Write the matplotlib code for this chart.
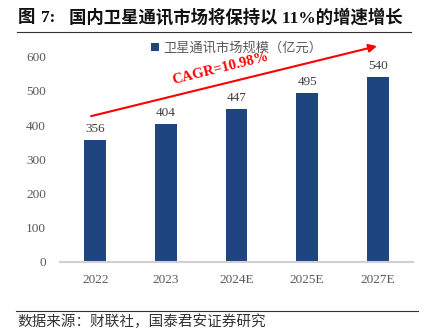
import matplotlib
matplotlib.use('Agg')
import matplotlib.pyplot as plt

years = ['2022', '2023', '2024E', '2025E', '2027E']
market = [356, 404, 447, 495, 540]
series_name = '卫星通讯市场规模（亿元）'
title_head = '图'
title_num = '7:'
title_body = '国内卫星通讯市场将保持以 11%的增速增长'
source = '数据来源：财联社，国泰君安证券研究'
cagr = 'CAGR=10.98%'

fonts = ['Liberation Serif', 'Noto Sans CJK SC', 'DejaVu Sans']
plt.rcParams['font.family'] = fonts

fig = plt.figure(figsize=(4.29, 3.34), dpi=100)
ax = fig.add_axes([60/429, 1-261.7/334, 353/429, 205/334])

x = range(len(years))
bars = ax.bar(x, market, width=0.31, color='#1f4580', label=series_name, zorder=2)
for xi, v in zip(x, market):
    ax.annotate(str(v), (xi, v), xytext=(0, 3.5), textcoords='offset points',
                ha='center', va='bottom', fontsize=9.5, color='#404040')

ax.set_xlim(-0.5, 4.5)
ax.set_ylim(0, 600)
ax.set_yticks(range(0, 601, 100))
ax.set_xticks(list(x))
ax.set_xticklabels(years)
ax.tick_params(axis='both', length=0, labelsize=9.5, labelcolor='#595959')
ax.tick_params(axis='y', pad=10)
ax.tick_params(axis='x', pad=9)
for s in ['top', 'right', 'left']:
    ax.spines[s].set_visible(False)
ax.spines['bottom'].set_color('#d0d0d0')
ax.spines['bottom'].set_linewidth(1.5)

leg = ax.legend(loc='upper center', bbox_to_anchor=(0.5, 1.13), frameon=False,
                handlelength=0.6, handleheight=0.6, handletextpad=0.3,
                prop={'family': fonts, 'size': 9.5})
for t in leg.get_texts():
    t.set_color('#595959')

# growth arrow
ax.annotate('', xy=(3.99, 631), xytext=(-0.06, 426), annotation_clip=False,
            arrowprops=dict(arrowstyle='-|>', color='#ff0000', lw=1.5,
                            mutation_scale=12, shrinkA=0, shrinkB=0))
ax.text(1.77, 566, cagr, color='#ff0000', fontsize=10.5, fontweight='bold',
        rotation=14, ha='center', va='center', rotation_mode='anchor')

ty = 1 - 18/334
fig.text(18/429, ty, title_head, fontsize=12.5, fontweight='bold',
         ha='left', va='center', color='#111111')
fig.text(41/429, ty, title_num, fontsize=12.5, fontweight='bold',
         ha='left', va='center', color='#111111')
fig.text(69/429, ty, title_body, fontsize=12.5, fontweight='bold',
         ha='left', va='center', color='#111111')
fig.add_artist(plt.Line2D([17/429, 411/429], [1-31.5/334]*2, color='#333333', lw=0.8))
fig.add_artist(plt.Line2D([16/429, 418/429], [1-310.7/334]*2, color='#333333', lw=0.8))
fig.text(17/429, 1-322/334, source, fontsize=10.5, ha='left', va='center', color='#333333')

fig.savefig('out.png', dpi=100)
